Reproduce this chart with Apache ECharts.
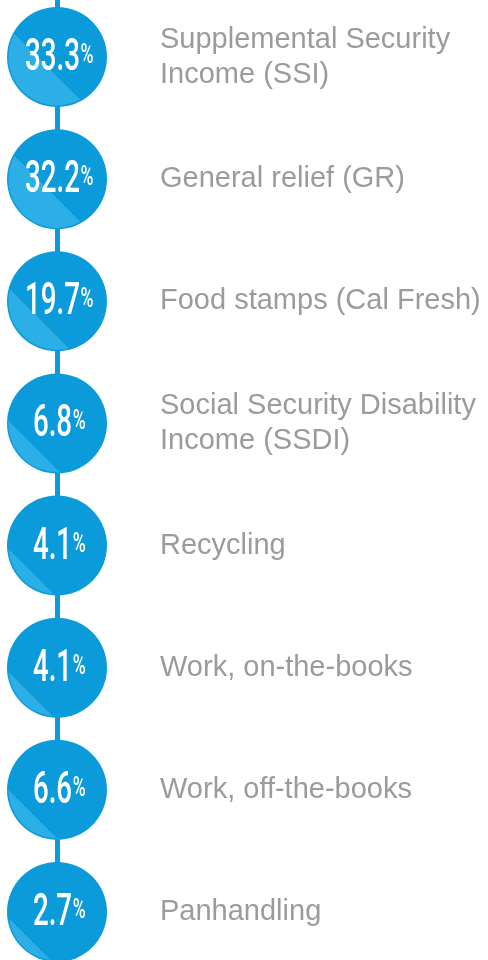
<!DOCTYPE html>
<html>
<head>
<meta charset="utf-8">
<script src="https://cdn.jsdelivr.net/npm/echarts@6/dist/echarts.min.js"></script>
<style>
  html, body { margin: 0; padding: 0; background: #fff; }
  #incomeSources { width: 488px; height: 960px; }
</style>
</head>
<body>
<div id="incomeSources"></div>
<script>
  // categories as printed (line breaks as in the picture)
  var categories = [
    'Supplemental Security\nIncome (SSI)',
    'General relief (GR)',
    'Food stamps (Cal Fresh)',
    'Social Security Disability\nIncome (SSDI)',
    'Recycling',
    'Work, on-the-books',
    'Work, off-the-books',
    'Panhandling'
  ]
  var shares = [33.3, 32.2, 19.7, 6.8, 4.1, 4.1, 6.6, 2.7]

  // style only: where the light "long shadow" ends inside each bubble
  var shadeStops = [0.40, 0.40, 0.32, 0.26, 0.23, 0.23, 0.25, 0.22]

  var BLUE = '#0b9bdb'
  var LIGHT = '#2caee6'
  var RADIUS = 50
  var SQUEEZE = 0.63 // condensed look for the figures
  var NUM_FONT = { size: 44, weight: 500 }
  var PCT_FONT = { size: 28, weight: 500 }

  var measureCtx = document.createElement('canvas').getContext('2d')
  function textWidth (str, f) {
    measureCtx.font = f.weight + ' ' + f.size + 'px Roboto'
    return measureCtx.measureText(str).width
  }

  function renderBubble (params, api) {
    var i = params.dataIndex
    var pt = api.coord([api.value(0), api.value(1)])
    var num = api.value(2).toFixed(1)
    var wNum = textWidth(num, NUM_FONT)
    var wPct = textWidth('%', PCT_FONT)
    var startX = -(wNum + wPct) / 2
    var t = shadeStops[i]
    return {
      type: 'group',
      children: [{
        type: 'circle',
        shape: { cx: pt[0], cy: pt[1], r: RADIUS },
        style: { fill: BLUE }
      }, {
        type: 'circle',
        shape: { cx: pt[0], cy: pt[1], r: RADIUS - 1.5 },
        style: {
          fill: new echarts.graphic.LinearGradient(0, 1, 1, 0, [
            { offset: 0, color: LIGHT },
            { offset: t, color: LIGHT },
            { offset: t, color: 'rgba(44,174,230,0)' },
            { offset: 1, color: 'rgba(44,174,230,0)' }
          ])
        }
      }, {
        type: 'group',
        x: pt[0] + 2,
        y: pt[1],
        scaleX: SQUEEZE,
        children: [{
          type: 'text',
          x: startX,
          y: 2,
          style: {
            text: num,
            fill: '#fff',
            fontFamily: 'Roboto',
            fontSize: NUM_FONT.size,
            fontWeight: NUM_FONT.weight,
            align: 'left',
            verticalAlign: 'middle'
          }
        }, {
          type: 'text',
          x: startX + wNum + 1,
          y: -15,
          style: {
            text: '%',
            fill: '#fff',
            fontFamily: 'Roboto',
            fontSize: PCT_FONT.size,
            fontWeight: PCT_FONT.weight,
            align: 'left',
            verticalAlign: 'top'
          }
        }]
      }]
    }
  }

  var chart = echarts.init(document.getElementById('incomeSources'))
  chart.setOption({
    animation: false,
    backgroundColor: '#fff',
    grid: {
      left: 7,
      width: 100,
      top: -4,
      height: 977,
      containLabel: false,
      outerBoundsMode: 'none'
    },
    xAxis: {
      type: 'value',
      min: -1,
      max: 1,
      show: false
    },
    yAxis: {
      type: 'category',
      data: categories,
      inverse: true,
      position: 'right',
      axisLine: {
        show: true,
        onZero: true,
        lineStyle: { color: BLUE, width: 5 }
      },
      axisTick: { show: false },
      splitLine: { show: false },
      axisLabel: {
        interval: 0,
        margin: 53,
        align: 'left',
        color: '#9b9b9b',
        fontFamily: 'Liberation Sans',
        fontSize: 29,
        lineHeight: 35
      }
    },
    series: [{
      type: 'custom',
      renderItem: renderBubble,
      encode: { x: 0, y: 1 },
      data: shares.map(function (v, i) { return [0, i, v] })
    }]
  })
</script>
</body>
</html>
